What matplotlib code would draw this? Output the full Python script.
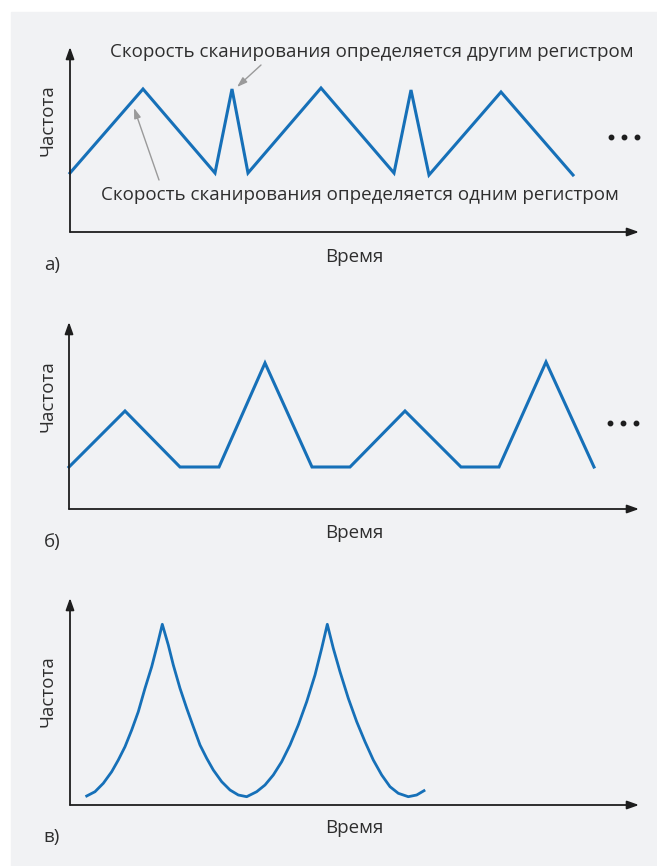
import matplotlib.pyplot as plt
from matplotlib.patches import Rectangle

# panel a: triangle sweep (x, y in px from axis origin)
a_x = [0, 73, 145, 162, 178, 251, 324, 341, 359, 431, 503]
a_y = [59, 143, 59, 143, 59, 144, 59, 142, 57, 140, 57]

# panel b: sweep with pauses
b_x = [0, 56, 111, 150, 196, 243, 281, 336, 392, 430, 477, 525]
b_y = [42, 98, 42, 42, 146, 42, 42, 98, 42, 42, 147, 42]

c_x = [16.7, 25, 33.3, 41.7, 48.3, 55, 61.7, 68.3, 75, 81.7, 87.3, 92.3,
       98.3, 103.3, 110, 116.7, 123.3, 130, 136.7, 143.3, 151.7, 160, 168.3, 176.7,
       186.7, 195, 203.3, 211.7, 220, 228.3, 236.7, 245, 251.7, 257.3,
       263.3, 270, 278.3, 286.7, 295, 303.3, 311.7, 320, 328.3, 338.3, 346.7, 354]
c_y = [9, 13.3, 21.7, 33.3, 45, 58.3, 75, 93.3, 116.7, 138.3, 160, 180.7,
       160, 140, 116.7, 96.7, 78.3, 60, 46.7, 35, 23.3, 15, 10, 8.3,
       13.3, 20, 30, 43.3, 60, 80, 103.3, 130, 156.7, 180.7,
       156.7, 133.3, 106.7, 83.3, 63.3, 45, 30, 18.3, 11.7, 8.3, 10, 14.3]

ylabel = "Частота"
xlabel = "Время"
panel_tags = ["а)", "б)", "в)"]
note_other = "Скорость сканирования определяется другим регистром"
note_one = "Скорость сканирования определяется одним регистром"

W, H = 657, 866
BLUE = "#1670b8"
TXT = "#2e2e2e"
FONT = "Open Sans"
FS = 13.5

fig = plt.figure(figsize=(W / 100, H / 100), dpi=100)
fig.patch.set_facecolor("white")
fig.patches.append(Rectangle((11 / W, 0), 1 - 11 / W, (H - 12) / H,
                             transform=fig.transFigure, color="#f1f2f4", zorder=-10))


def make_axes(x0, y0, x1, y1):
    # pixel box: origin (x0, y0), arrow tips at x1 and y1
    ax = fig.add_axes([x0 / W, 1 - y0 / H, (x1 - x0) / W, (y0 - y1) / H])
    ax.set_xlim(0, x1 - x0)
    ax.set_ylim(0, y0 - y1)
    ax.axis("off")
    arrow = dict(arrowstyle="-|>,head_length=0.7,head_width=0.25", color="#1e1e1e",
                 lw=1.3, shrinkA=0, shrinkB=0)
    ax.annotate("", xy=(1, 0), xytext=(0, 0), xycoords="axes fraction", arrowprops=arrow)
    ax.annotate("", xy=(0, 1), xytext=(0, 0), xycoords="axes fraction", arrowprops=arrow)
    return ax


def labels(y_mid, y_time, y_tag, tag):
    fig.text(48 / W, 1 - y_mid / H, ylabel, rotation=90, ha="center", va="center",
             fontsize=FS, color=TXT, family=FONT)
    fig.text(354 / W, 1 - y_time / H, xlabel, ha="center", va="center",
             fontsize=FS, color=TXT, family=FONT)
    fig.text(52 / W, 1 - y_tag / H, tag, ha="center", va="center",
             fontsize=FS, color=TXT, family=FONT)


def dots(ax, y):
    ax.plot([541, 554, 567], [y, y, y], "o", color="#1e1e1e", ms=3.2, clip_on=False)


# a)
ax = make_axes(70, 232, 639, 47)
ax.plot(a_x, a_y, color=BLUE, lw=2.2, solid_joinstyle="miter", clip_on=False)
dots(ax, 95)
gray = dict(arrowstyle="-|>,head_length=0.6,head_width=0.2", color="#9a9a9a", lw=1.0,
            shrinkA=0, shrinkB=0)
ax.annotate("", xy=(167, 145), xytext=(191, 167), arrowprops=gray)
ax.annotate("", xy=(64, 124), xytext=(89, 52), arrowprops=gray)
ax.text(302, 180, note_other, ha="center", va="center", fontsize=FS, color=TXT, family=FONT)
ax.text(290, 37, note_one, ha="center", va="center", fontsize=FS, color=TXT, family=FONT)
labels(120, 257, 265, panel_tags[0])

# б)
ax = make_axes(69, 509, 639, 322)
ax.plot(b_x, b_y, color=BLUE, lw=2.2, solid_joinstyle="miter", clip_on=False)
dots(ax, 86)
labels(396, 533, 542, panel_tags[1])

# в)
ax = make_axes(70, 805, 639, 598)
ax.plot(c_x, c_y, color=BLUE, lw=2.0, clip_on=False)
labels(691, 828, 837, panel_tags[2])

fig.savefig("out.png", dpi=100, facecolor=fig.get_facecolor())
